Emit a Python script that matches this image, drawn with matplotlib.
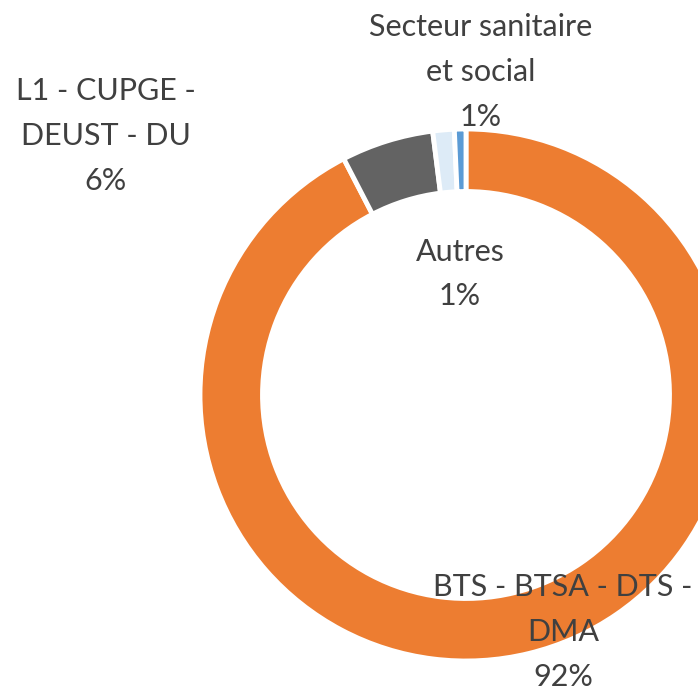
import matplotlib
matplotlib.use("Agg")
import matplotlib.pyplot as plt

# Donut data (Excel-style, clockwise from 12 o'clock)
categories = ["BTS - BTSA - DTS -\nDMA", "L1 - CUPGE -\nDEUST - DU", "Autres", "Secteur sanitaire\net social"]
values = [92.4, 5.6, 1.3, 0.7]
colors = ["#ED7D31", "#636363", "#DDEBF7", "#5B9BD5"]
pct_labels = ["92%", "6%", "1%", "1%"]

# label centres in image pixels (x, y from top)
label_pos = [(563, 632), (106, 136), (460, 274), (481, 72)]

W, H = 698, 692
TEXT_COLOR = "#404040"

fig = plt.figure(figsize=(W / 100, H / 100), dpi=100)
ax = fig.add_axes([0, 0, 1, 1])

cx, cy, r = 466, H - 395, 266
ax.pie(
    values,
    colors=colors,
    startangle=90,
    counterclock=False,
    center=(cx, cy),
    radius=r,
    wedgeprops=dict(width=r * 0.235, edgecolor="white", linewidth=3.5),
    frame=True,
)
ax.set_xlim(0, W)
ax.set_ylim(0, H)
ax.set_aspect("equal")
ax.axis("off")

for cat, pct, (x, y) in zip(categories, pct_labels, label_pos):
    ax.text(
        x, H - y, f"{cat}\n{pct}",
        ha="center", va="center",
        fontsize=22, family="Lato", color=TEXT_COLOR,
        linespacing=1.72, zorder=5,
    )

fig.savefig("out.png", dpi=100)
